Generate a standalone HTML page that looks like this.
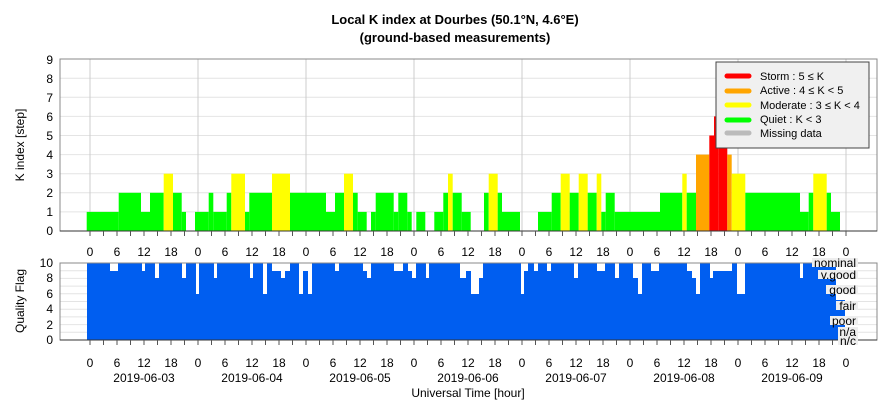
<!DOCTYPE html>
<html><head><meta charset="utf-8"><style>
html,body{margin:0;padding:0;background:#fff;}
svg{display:block;font-family:"Liberation Sans",sans-serif;}
</style></head><body>
<svg id="s" width="886" height="400" viewBox="0 0 886 400" xmlns="http://www.w3.org/2000/svg">
<rect width="886" height="400" fill="#fff"/>
<text x="455" y="24" font-size="13" font-weight="bold" text-anchor="middle">Local K index at Dourbes (50.1°N, 4.6°E)</text>
<text x="455" y="42" font-size="13" font-weight="bold" text-anchor="middle">(ground-based measurements)</text>
<g id="grid"></g>
<g id="bars"></g>
<g id="qual"></g>
<rect x="60" y="59" width="817" height="172" fill="none" stroke="#888" stroke-width="1"/>
<line x1="60" y1="231" x2="877" y2="231" stroke="#333"/>
<rect x="60" y="263" width="817" height="77" fill="none" stroke="#888"/>
<line x1="60" y1="340" x2="877" y2="340" stroke="#333"/>
<g id="ticks"></g>
<g font-size="12" text-anchor="end">
<text x="53" y="235">0</text><text x="53" y="216">1</text><text x="53" y="197">2</text><text x="53" y="178">3</text><text x="53" y="159">4</text><text x="53" y="140">5</text><text x="53" y="121">6</text><text x="53" y="102">7</text><text x="53" y="83">8</text><text x="53" y="64">9</text>
<text x="53" y="344">0</text><text x="53" y="329">2</text><text x="53" y="313">4</text><text x="53" y="298">6</text><text x="53" y="282">8</text><text x="53" y="267">10</text>
</g>
<text transform="translate(24,145) rotate(-90)" font-size="12" text-anchor="middle">K index [step]</text>
<text transform="translate(24,301) rotate(-90)" font-size="12" text-anchor="middle">Quality Flag</text>
<g font-size="12" text-anchor="middle">
<g id="tl1"></g>
</g>
<g font-size="12" text-anchor="middle">
<text x="90" y="256">0</text><text x="117" y="256">6</text><text x="144" y="256">12</text><text x="171" y="256">18</text>
<text x="198" y="256">0</text><text x="225" y="256">6</text><text x="252" y="256">12</text><text x="279" y="256">18</text>
<text x="306" y="256">0</text><text x="333" y="256">6</text><text x="360" y="256">12</text><text x="387" y="256">18</text>
<text x="414" y="256">0</text><text x="441" y="256">6</text><text x="468" y="256">12</text><text x="495" y="256">18</text>
<text x="522" y="256">0</text><text x="549" y="256">6</text><text x="576" y="256">12</text><text x="603" y="256">18</text>
<text x="630" y="256">0</text><text x="657" y="256">6</text><text x="684" y="256">12</text><text x="711" y="256">18</text>
<text x="738" y="256">0</text><text x="765" y="256">6</text><text x="792" y="256">12</text><text x="819" y="256">18</text><text x="846" y="256">0</text>
<text x="90" y="367">0</text><text x="117" y="367">6</text><text x="144" y="367">12</text><text x="171" y="367">18</text>
<text x="198" y="367">0</text><text x="225" y="367">6</text><text x="252" y="367">12</text><text x="279" y="367">18</text>
<text x="306" y="367">0</text><text x="333" y="367">6</text><text x="360" y="367">12</text><text x="387" y="367">18</text>
<text x="414" y="367">0</text><text x="441" y="367">6</text><text x="468" y="367">12</text><text x="495" y="367">18</text>
<text x="522" y="367">0</text><text x="549" y="367">6</text><text x="576" y="367">12</text><text x="603" y="367">18</text>
<text x="630" y="367">0</text><text x="657" y="367">6</text><text x="684" y="367">12</text><text x="711" y="367">18</text>
<text x="738" y="367">0</text><text x="765" y="367">6</text><text x="792" y="367">12</text><text x="819" y="367">18</text><text x="846" y="367">0</text>
<text x="144" y="382">2019-06-03</text><text x="252" y="382">2019-06-04</text><text x="360" y="382">2019-06-05</text><text x="468" y="382">2019-06-06</text><text x="576" y="382">2019-06-07</text><text x="684" y="382">2019-06-08</text><text x="792" y="382">2019-06-09</text>
<text x="468" y="397">Universal Time [hour]</text>
</g>
<g font-size="12" text-anchor="end" id="ql">
<rect x="812" y="258" width="46" height="9" fill="#eee"/><text x="856" y="267">nominal</text>
<rect x="818" y="270" width="40" height="9" fill="#eee"/><text x="856" y="279">v.good</text>
<rect x="826" y="285" width="32" height="9" fill="#eee"/><text x="856" y="294">good</text>
<rect x="836" y="301" width="22" height="9" fill="#eee"/><text x="856" y="310">fair</text>
<rect x="830" y="316" width="28" height="9" fill="#eee"/><text x="856" y="325">poor</text>
<rect x="838" y="327" width="20" height="9" fill="#eee"/><text x="856" y="336">n/a</text>
<rect x="838" y="336" width="20" height="9" fill="#eee"/><text x="856" y="345">n/c</text>
</g>
<g>
<rect x="716" y="62" width="153" height="86" fill="#f0f0f0" stroke="#444"/>
<g stroke-width="5" stroke-linecap="round">
<line x1="727" y1="76" x2="749" y2="76" stroke="#f00"/>
<line x1="727" y1="91" x2="749" y2="91" stroke="#ffa500"/>
<line x1="727" y1="105" x2="749" y2="105" stroke="#ff0"/>
<line x1="727" y1="120" x2="749" y2="120" stroke="#0f0"/>
<line x1="727" y1="133" x2="749" y2="133" stroke="#bbb"/>
</g>
<g font-size="11">
<text x="760" y="80">Storm : 5 ≤ K</text>
<text x="760" y="94">Active : 4 ≤ K &lt; 5</text>
<text x="760" y="109">Moderate : 3 ≤ K &lt; 4</text>
<text x="760" y="123">Quiet : K &lt; 3</text>
<text x="760" y="137">Missing data</text>
</g>
</g>
<script>
var NS="http://www.w3.org/2000/svg";
function R(g,x,y,w,h,f){var r=document.createElementNS(NS,"rect");r.setAttribute("x",x);r.setAttribute("y",y);r.setAttribute("width",w);r.setAttribute("height",h);r.setAttribute("fill",f);document.getElementById(g).appendChild(r);}
function L(g,x1,y1,x2,y2,c){var l=document.createElementNS(NS,"line");l.setAttribute("x1",x1);l.setAttribute("y1",y1);l.setAttribute("x2",x2);l.setAttribute("y2",y2);l.setAttribute("stroke",c);document.getElementById(g).appendChild(l);}
for(var k=1;k<9;k++){var y=231-k*19.1;L("grid",60,y,877,y,"#e4e4e4");}
for(var d=0;d<8;d++){L("grid",90+108*d,59,90+108*d,231,"#ccc");}
for(var k=1;k<10;k++){var y=340-k*7.7;L("grid",60,y,877,y,"#e4e4e4");}
var B=[[86.7,118.7,1],[118.7,141,2],[141,150,1],[150,163.7,2],[163.7,173,3],[173,181.7,2],[181.7,186,1],
[195,208.7,1],[208.7,213.3,2],[213.3,226.7,1],[226.7,231.3,2],[231.3,245,3],[245,249.3,1],[249.3,272,2],[272,290,3],[290,326,2],[326,335,1],[335,344,2],[344,353,3],[353,357.7,2],[357.7,366.7,1],
[371,375.7,1],[375.7,393.7,2],[393.7,398.3,1],[398.3,407.3,2],[407.3,411.7,1],[416.3,425.3,1],[434.3,443.3,1],[443.3,448,2],[448,452.7,3],[452.7,461.7,2],[461.7,470.7,1],
[484,488.7,2],[488.7,497.7,3],[497.7,502,2],[502,520,1],[538,551.7,1],[551.7,560.7,2],[560.7,569.7,3],[569.7,578.7,2],[578.7,587.7,3],[587.7,596.7,2],[596.7,601.3,3],[601.3,605.7,1],[605.7,614.7,2],[614.7,660,1],[660,682.3,2],[682.3,686.7,3],[686.7,696,2],
[696,709.3,4],[709.3,714,5],[714,718.3,6],[718.3,727.3,5],[727.3,731.7,4],[731.7,745.3,3],[745.3,800,2],[800,808.7,1],[808.7,813.3,2],[813.3,826.7,3],[826.7,831,2],[831,840,1]];
B.forEach(function(b){var c=b[2]>=5?"#f00":b[2]>=4?"#ffa500":b[2]>=3?"#ff0":"#0f0";R("bars",b[0],231-b[2]*19.1,b[1]-b[0],b[2]*19.1,c);});
R("qual",87,263,758,77,"#005ef0");
var Q=[[110,118,271],[142,145,271],[155,159,278],[182,186,278],[196,199,294],[214,217,278],[250,253,278],[263,267,294],[272,290,271],[281,285,278],[299,303,294],[303,308,271],[308,312,294],[335,339,271],[363,371,271],[367,371,278],[394,403,271],[408,416,271],[412,416,278],[426,429,278],[462,466,278],[465,471,271],[460,465,278],[471,479,294],[479,483,278],[521,524,294],[524,528,271],[534,538,271],[547,551,271],[574,578,278],[597,605,271],[615,619,278],[633,642,278],[638,642,294],[651,659,271],[687,696,271],[692,696,278],[696,700,294],[710,713,278],[713,732,271],[737,745,294],[800,803,278],[836,845,300]];
Q.forEach(function(q){R("qual",q[0],263,q[1]-q[0],q[2]-263,"#fff");});
for(var i=0;i<=56;i++){var x=90+13.5*i;L("ticks",x,231,x,236,"#555");L("ticks",x,340,x,345,"#555");}
</script>
</svg>
</body></html>
